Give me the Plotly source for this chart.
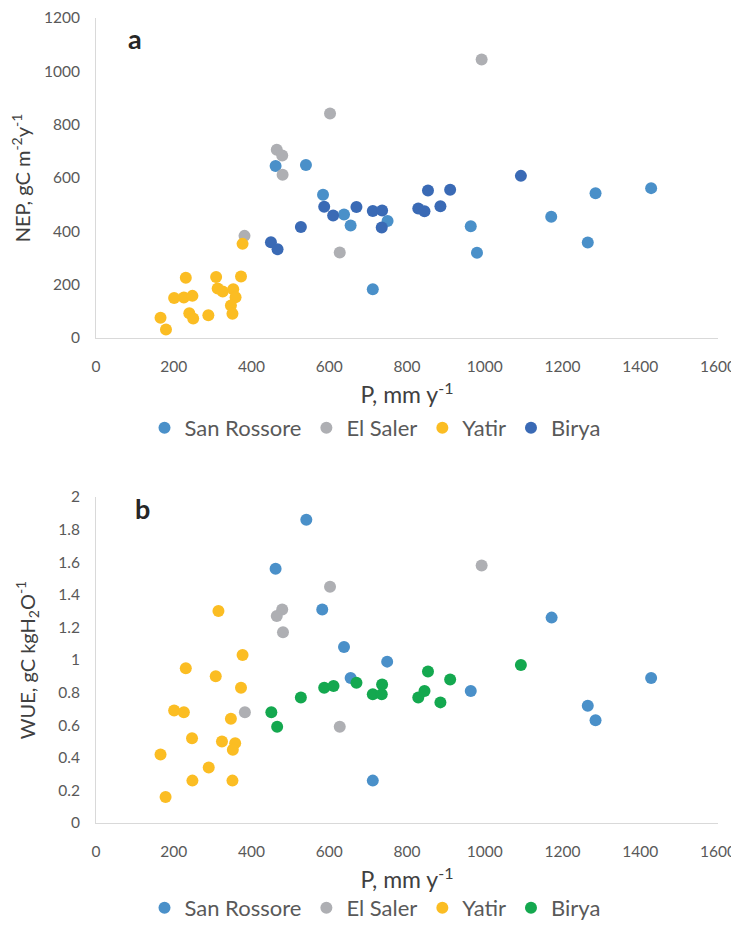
import plotly.graph_objects as go

# ---------------- data: panel a (NEP vs P) ----------------
sr_p_a = [462, 540, 584, 638, 655, 750, 712, 964, 980, 1171, 1285, 1265, 1428]
sr_nep = [645, 649, 537, 463, 422, 439, 183, 419, 320, 455, 543, 358, 562]

es_p_a = [602, 465, 479, 480, 382, 627, 992]
es_nep = [842, 706, 684, 612, 383, 321, 1044]

ya_p_a = [166, 180, 201, 226, 248, 231, 240, 250, 289, 309, 313, 326, 353, 359, 347, 351, 373, 377]
ya_nep = [76, 32, 150, 152, 158, 226, 93, 73, 85, 229, 186, 174, 183, 153, 122, 91, 231, 353]

bi_p_a = [450, 467, 527, 587, 610, 670, 712, 736, 735, 829, 845, 854, 886, 911, 1093]
bi_nep = [359, 333, 416, 492, 459, 491, 476, 478, 414, 486, 475, 553, 494, 556, 608]

# ---------------- data: panel b (WUE vs P) ----------------
sr_p_b = [541, 462, 582, 638, 749, 655, 712, 1172, 964, 1265, 1285, 1428]
sr_wue = [1.86, 1.56, 1.31, 1.08, 0.99, 0.89, 0.26, 1.26, 0.81, 0.72, 0.63, 0.89]

es_p_b = [602, 479, 465, 481, 383, 627, 992]
es_wue = [1.45, 1.31, 1.27, 1.17, 0.68, 0.59, 1.58]

ya_p_b = [315, 377, 231, 308, 373, 201, 226, 347, 247, 324, 358, 352, 166, 290, 248, 351, 179]
ya_wue = [1.30, 1.03, 0.95, 0.90, 0.83, 0.69, 0.68, 0.64, 0.52, 0.50, 0.49, 0.45, 0.42, 0.34, 0.26, 0.26, 0.16]

bi_p_b = [451, 466, 527, 587, 611, 670, 712, 735, 736, 829, 845, 854, 886, 911, 1093]
bi_wue = [0.68, 0.59, 0.77, 0.83, 0.84, 0.86, 0.79, 0.79, 0.85, 0.77, 0.81, 0.93, 0.74, 0.88, 0.97]

site_names = ["San Rossore", "El Saler", "Yatir", "Birya"]
x_ticks = [0, 200, 400, 600, 800, 1000, 1200, 1400, 1600]

# ---------------- styles ----------------
C_SR = "#4A90C9"
C_ES = "#AEAFB3"
C_YA = "#FBBD23"
C_BI_A = "#3A6AB5"
C_BI_B = "#14A84F"
FONT = "Lato, Liberation Sans, sans-serif"
MS = 12

fig = go.Figure()

def add(x, y, name, color, xa, ya, legend):
    fig.add_trace(go.Scatter(
        x=x, y=y, mode="markers", name=name,
        marker=dict(size=MS, color=color, line=dict(width=0)),
        xaxis=xa, yaxis=ya, legend=legend, hoverinfo="x+y+name"))

add(sr_p_a, sr_nep, site_names[0], C_SR, "x", "y", "legend")
add(es_p_a, es_nep, site_names[1], C_ES, "x", "y", "legend")
add(ya_p_a, ya_nep, site_names[2], C_YA, "x", "y", "legend")
add(bi_p_a, bi_nep, site_names[3], C_BI_A, "x", "y", "legend")

add(sr_p_b, sr_wue, site_names[0], C_SR, "x2", "y2", "legend2")
add(es_p_b, es_wue, site_names[1], C_ES, "x2", "y2", "legend2")
add(ya_p_b, ya_wue, site_names[2], C_YA, "x2", "y2", "legend2")
add(bi_p_b, bi_wue, site_names[3], C_BI_B, "x2", "y2", "legend2")

# the page body has an 8px margin, so the figure is sized to fit the window
W, H = 731, 918
xd = [88 / W, 710 / W]
ya_dom = [1 - 330 / H, 1 - 10 / H]
yb_dom = [1 - 815 / H, 1 - 489 / H]

axis_common = dict(
    showgrid=False, zeroline=False, showline=True, linecolor="#D9D9D9", linewidth=1,
    ticks="", automargin=False, ticklabeloverflow="allow",
    tickfont=dict(family=FONT, size=15.5, color="#595959"),
)

fig.update_layout(
    width=W, height=H,
    margin=dict(l=0, r=0, t=0, b=0, autoexpand=False),
    paper_bgcolor="white", plot_bgcolor="white",
    font=dict(family=FONT, color="#595959"),
    xaxis=dict(domain=xd, anchor="y", range=[0, 1600], tickvals=x_ticks,
               ticklabelstandoff=14,
               title=dict(text="P, mm y<sup>-1</sup>", standoff=13,
                          font=dict(family=FONT, size=23, color="#404040")), **axis_common),
    yaxis=dict(domain=ya_dom, anchor="x", range=[0, 1200], dtick=200,
               ticklabelstandoff=12,
               title=dict(text="NEP, gC m<sup>-2</sup>y<sup>-1</sup>", standoff=19,
                          font=dict(family=FONT, size=20, color="#404040")), **axis_common),
    xaxis2=dict(domain=xd, anchor="y2", range=[0, 1600], tickvals=x_ticks,
                ticklabelstandoff=14,
                title=dict(text="P, mm y<sup>-1</sup>", standoff=13,
                           font=dict(family=FONT, size=23, color="#404040")), **axis_common),
    yaxis2=dict(domain=yb_dom, anchor="x2", range=[0, 2], dtick=0.2,
                ticklabelstandoff=12,
                title=dict(text="WUE, gC kgH<sub>2</sub>O<sup>-1</sup>", standoff=17,
                           font=dict(family=FONT, size=20, color="#404040")), **axis_common),
    legend=dict(orientation="h", x=367 / W, xanchor="center", y=1 - 420 / H, yanchor="middle",
                font=dict(family=FONT, size=22, color="#595959"), itemwidth=30,
                bgcolor="rgba(0,0,0,0)"),
    legend2=dict(orientation="h", x=367 / W, xanchor="center", y=1 - 900 / H, yanchor="middle",
                 font=dict(family=FONT, size=22, color="#595959"), itemwidth=30,
                 bgcolor="rgba(0,0,0,0)"),
    annotations=[
        dict(text="<b>a</b>", xref="x domain", yref="y domain", x=0.063, y=0.935,
             xanchor="center", yanchor="middle",
             showarrow=False, font=dict(family=FONT, size=27, color="#262626")),
        dict(text="<b>b</b>", xref="x2 domain", yref="y2 domain", x=0.074, y=0.966,
             xanchor="center", yanchor="middle",
             showarrow=False, font=dict(family=FONT, size=27, color="#262626")),
    ],
)

fig.write_html("out.html")
